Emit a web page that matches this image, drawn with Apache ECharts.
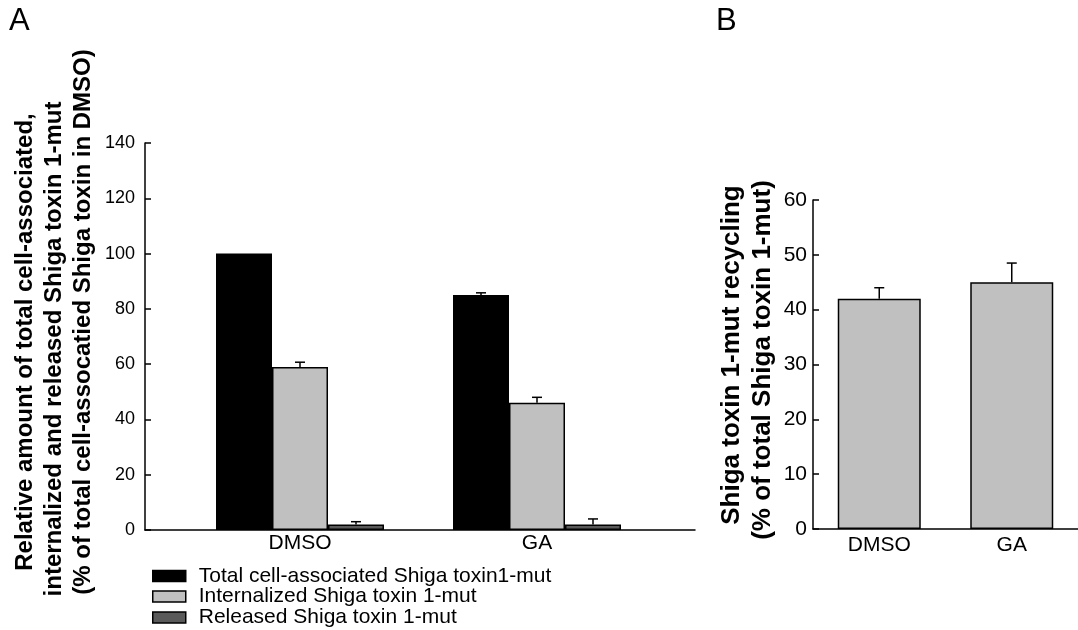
<!DOCTYPE html>
<html>
<head>
<meta charset="utf-8">
<script src="https://cdn.jsdelivr.net/npm/echarts@6/dist/echarts.min.js"></script>
<style>
  html, body { margin: 0; padding: 0; background: #fff; }
  #main { width: 1078px; height: 630px; }
</style>
</head>
<body>
<div id="main"></div>
<script>
// panel A data
var groupsA = ["DMSO", "GA"];
var totalA = [100, 85];
var totalErrA = [0, 0.8];
var internA = [59, 46];
var internErrA = [1.7, 2];
var releasedA = [2, 2];
var releasedErrA = [1, 2];
var namesA = [
  "Total cell-associated Shiga toxin1-mut",
  "Internalized Shiga toxin 1-mut",
  "Released Shiga toxin 1-mut"
];
var ticksA = [0, 140, 20];

// panel B data
var groupsB = ["DMSO", "GA"];
var recyclingB = [42, 45];
var recyclingErrB = [2, 3.5];
var ticksB = [0, 60, 10];

var FONT = "Liberation Sans, Arial, sans-serif";
var barWA = 56;
var barWB = 83;
var colorsA = ["#000000", "#c0c0c0", "#5a5a5a"];

var chart = echarts.init(document.getElementById("main"));

// error bar only going up, drawn with a custom series
function errSeries(vals, errs, xi, yi, shift) {
  var data = [];
  for (var i = 0; i < vals.length; i++) {
    data.push([i, vals[i], errs[i]]);
  }
  return {
    type: "custom",
    xAxisIndex: xi,
    yAxisIndex: yi,
    z: 5,
    silent: true,
    data: data,
    encode: { x: 0, y: 1 },
    renderItem: function(params, api) {
      var e = api.value(2);
      if (!e) return { type: "group", children: [] };
      var p0 = api.coord([api.value(0), api.value(1)]);
      var p1 = api.coord([api.value(0), api.value(1) + e]);
      var x = p0[0] + shift;
      var st = { stroke: "#000", lineWidth: 1.5 };
      return {
        type: "group",
        children: [
          { type: "line", shape: { x1: x, y1: p0[1], x2: x, y2: p1[1] }, style: st },
          { type: "line", shape: { x1: x - 5, y1: p1[1], x2: x + 5, y2: p1[1] }, style: st }
        ]
      };
    }
  };
}

function barA(name, vals, color) {
  return {
    name: name,
    type: "bar",
    xAxisIndex: 1,
    yAxisIndex: 1,
    barWidth: barWA,
    barGap: "0%",
    data: vals,
    itemStyle: { color: color, borderColor: "#000", borderWidth: 1.5 }
  };
}

// one legend box per row so the column never wraps
function legendRow(name, centerY) {
  return {
    data: [name],
    orient: "vertical",
    left: 152,
    top: centerY - 11,
    padding: 0,
    itemWidth: 33,
    itemHeight: 11,
    icon: "rect",
    selectedMode: false,
    itemStyle: { borderColor: "#000", borderWidth: 1.5 },
    textStyle: { color: "#000", fontSize: 21, lineHeight: 21, fontFamily: FONT, padding: [0, 0, 0, 8] }
  };
}

function rotTitle(text, x, y, size) {
  return {
    type: "text", x: x, y: y, rotation: Math.PI / 2,
    style: { text: text, fontSize: size, fontWeight: "bold", fontFamily: FONT,
      fill: "#000", align: "center", verticalAlign: "middle" }
  };
}

var axisLineStyle = { show: true, lineStyle: { color: "#000", width: 1.5 } };
var tickStyle = { show: true, inside: true, length: 6, lineStyle: { color: "#000", width: 1.5 } };

var option = {
  animation: false,
  backgroundColor: "#fff",
  grid: [
    { left: 145, top: 143, width: 550, height: 387 },   // A axes frame
    { left: 181.5, top: 143, width: 474, height: 387 }, // A bars
    { left: 813, top: 200, width: 276, height: 329 }    // B
  ],
  xAxis: [
    {
      gridIndex: 0, type: "category", data: [""],
      axisLine: axisLineStyle, axisTick: { show: false }, axisLabel: { show: false }
    },
    {
      gridIndex: 1, type: "category", data: groupsA,
      axisLine: { show: false }, axisTick: { show: false },
      axisLabel: { margin: 3, color: "#000", fontSize: 21, fontFamily: FONT }
    },
    {
      gridIndex: 2, type: "category", data: groupsB,
      axisLine: axisLineStyle, axisTick: { show: false },
      axisLabel: { margin: 6, interval: 0, color: "#000", fontSize: 21, fontFamily: FONT }
    }
  ],
  yAxis: [
    {
      gridIndex: 0, type: "value", min: ticksA[0], max: ticksA[1], interval: ticksA[2],
      axisLine: axisLineStyle, axisTick: tickStyle,
      axisLabel: { margin: 10, color: "#000", fontSize: 18, fontFamily: FONT },
      splitLine: { show: false }
    },
    {
      gridIndex: 1, type: "value", min: ticksA[0], max: ticksA[1], interval: ticksA[2],
      show: false, splitLine: { show: false }
    },
    {
      gridIndex: 2, type: "value", min: ticksB[0], max: ticksB[1], interval: ticksB[2],
      axisLine: axisLineStyle, axisTick: tickStyle,
      axisLabel: { margin: 6, color: "#000", fontSize: 21, fontFamily: FONT },
      splitLine: { show: false }
    }
  ],
  legend: [
    legendRow(namesA[0], 576.5),
    legendRow(namesA[1], 597),
    legendRow(namesA[2], 618)
  ],
  graphic: [
    { type: "text", left: 9, top: 6, style: { text: "A", fontSize: 31, fontFamily: FONT, fill: "#000" } },
    { type: "text", left: 716, top: 6, style: { text: "B", fontSize: 31, fontFamily: FONT, fill: "#000" } },
    rotTitle("Relative amount of total cell-associated,", 25, 342, 24),
    rotTitle("internalized and released Shiga toxin 1-mut", 54, 349, 24),
    rotTitle("(% of total cell-assocatied Shiga toxin in DMSO)", 83, 322, 24),
    rotTitle("Shiga toxin 1-mut recycling", 732, 355, 26),
    rotTitle("(% of total Shiga toxin 1-mut)", 763, 360, 26)
  ],
  series: [
    barA(namesA[0], totalA, colorsA[0]),
    barA(namesA[1], internA, colorsA[1]),
    barA(namesA[2], releasedA, colorsA[2]),
    errSeries(totalA, totalErrA, 1, 1, -barWA),
    errSeries(internA, internErrA, 1, 1, 0),
    errSeries(releasedA, releasedErrA, 1, 1, barWA),
    {
      name: "recycling",
      type: "bar",
      xAxisIndex: 2,
      yAxisIndex: 2,
      barWidth: barWB,
      data: recyclingB,
      itemStyle: { color: "#c0c0c0", borderColor: "#000", borderWidth: 1.5 }
    },
    errSeries(recyclingB, recyclingErrB, 2, 2, 0)
  ]
};

chart.setOption(option);
</script>
</body>
</html>
